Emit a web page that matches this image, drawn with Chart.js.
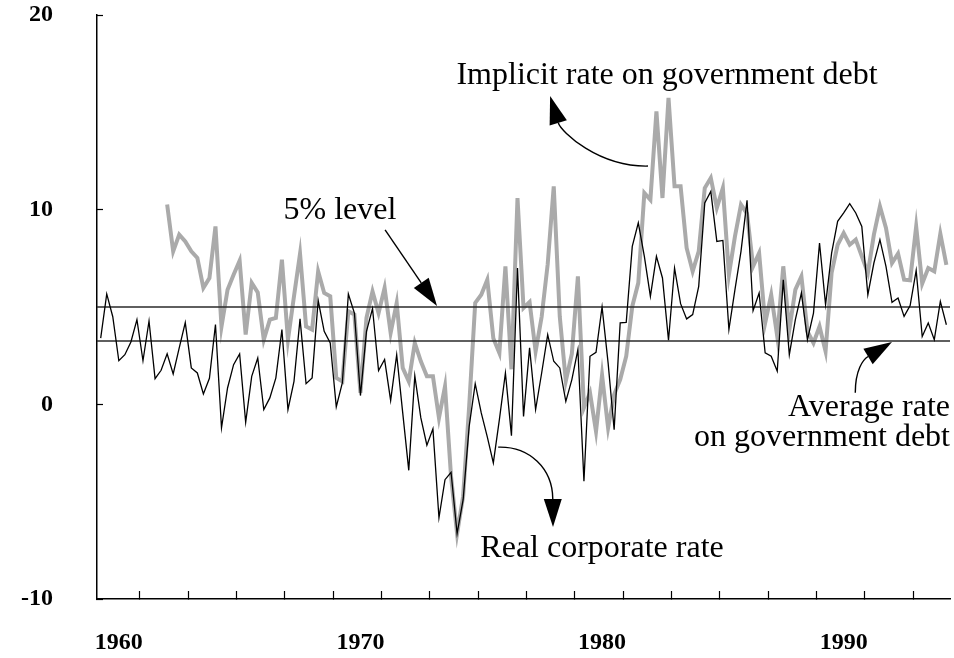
<!DOCTYPE html>
<html>
<head>
<meta charset="utf-8">
<title>Real corporate rate and implicit rate on government debt</title>
<script src="https://cdn.jsdelivr.net/npm/chart.js@4.4.0/dist/chart.umd.min.js"></script>
<style>
  html, body { margin: 0; padding: 0; background: #fff; }
  #wrap { position: relative; width: 954px; height: 658px; }
</style>
</head>
<body>
<div id="wrap"><canvas id="rates"></canvas></div>
<script>
// quarterly series, 1959Q2 .. 1994Q2
const firstQuarter = 1959.25;

const realRate = [
  3.4, 5.67, 4.5, 2.24, 2.55, 3.2, 4.35, 2.24, 4.28, 1.32,
  1.75, 2.6, 1.56, 2.9, 4.2, 1.87, 1.61, 0.53, 1.34, 4.1,
  -1.21, 0.84, 2.04, 2.59, -0.92, 1.44, 2.38, -0.27, 0.33, 1.36,
  3.84, -0.27, 1.18, 4.39, 1.06, 1.36, 5.34, 3.75, 3.15, -0.13,
  1.1, 5.67, 4.69, 0.45, 3.75, 4.92, 1.73, 2.3, 0.2, 2.55,
  -0.44, -3.39, 1.47, -0.7, -2.1, -1.26, -5.83, -3.87, -3.49, -6.64,
  -4.9, -1.13, 1.06, -0.44, -1.67, -3.01, -0.79, 1.61, -1.61, 7.0,
  -0.62, 2.9, -0.27, 1.61, 3.58, 2.21, 1.87, 0.15, 1.27, 2.81,
  -3.95, 2.47, 2.67, 5.0, 2.13, -1.3, 4.18, 4.21, 8.11, 9.32,
  7.6, 5.55, 7.6, 6.49, 3.29, 7.0, 5.17, 4.39, 4.61, 6.06,
  10.34, 10.94, 8.37, 8.42, 3.84, 5.89, 7.86, 10.48, 4.81, 5.72,
  2.64, 2.47, 1.7, 6.4, 2.55, 4.35, 5.72, 3.32, 4.69, 8.29,
  5.12, 7.77, 9.4, 9.83, 10.31, 9.83, 9.14, 5.63, 7.26, 8.46,
  7.09, 5.24, 5.46, 4.52, 5.07, 6.88, 3.49, 4.18, 3.32, 5.29,
  4.09
];

const implicitRate = [
  null, null, null, null, null, null, null, null, null, null,
  null, 10.26, 7.86, 8.72, 8.37, 7.86, 7.52, 5.98, 6.49, 9.14,
  4.0, 5.89, 6.66, 7.38, 3.58, 6.24, 5.75, 3.32, 4.35, 4.44,
  7.43, 3.32, 5.55, 7.74, 4.0, 3.84, 6.83, 5.72, 5.55, 1.36,
  1.18, 4.78, 4.61, 0.59, 4.44, 5.8, 4.69, 5.98, 3.67, 5.21,
  1.87, 1.18, 3.15, 2.21, 1.44, 1.44, -0.7, 0.92, -3.7, -6.64,
  -4.72, -0.1, 5.21, 5.63, 6.4, 3.4, 2.64, 7.09, 1.8, 10.6,
  4.95, 5.26, 2.72, 4.5, 7.2, 11.2, 4.5, 1.2, 2.6, 6.57,
  -0.17, 0.6, -1.39, 1.5, -1.21, 0.5, 1.27, 2.47, 5.03, 6.24,
  10.86, 10.51, 15.05, 10.6, 15.74, 11.2, 11.2, 8.03, 6.83, 7.86,
  11.11, 11.63, 10.09, 11.11, 6.66, 8.63, 10.26, 9.8, 7.09, 7.77,
  4.18, 5.63, 3.49, 7.09, 3.84, 5.89, 6.57, 3.75, 3.15, 4.0,
  2.72, 6.75, 8.2, 8.8, 8.2, 8.46, 7.6, 6.75, 8.72, 10.17,
  9.06, 7.26, 7.74, 6.4, 6.37, 9.14, 6.2, 7.0, 6.83, 8.77,
  7.17
];

const fivePercentLevel = 5;
const averageGovRate = 3.25;

const yearLabels = [1960, 1970, 1980, 1990];
const tickMarkYears = [1960.875, 1962.875, 1964.875, 1966.875, 1968.875, 1970.875,
  1972.875, 1974.875, 1976.875, 1978.875, 1980.875, 1982.875, 1984.875,
  1986.875, 1988.875, 1990.875, 1992.875];
const yTicks = [-10, 0, 10, 20];

const xMin = 1959.097, xMax = 1994.4;

const quarters = realRate.map((_, i) => firstQuarter + i * 0.25);
const toPoints = (vals) => vals.map((v, i) => ({ x: quarters[i], y: v }));

// text labels and arrows, positioned in data units
const notes = [
  { lines: ['Implicit rate on government debt'], x: 1982.69, y: 16.45, align: 'center' },
  { lines: ['5% level'], x: 1969.15, y: 9.5, align: 'center' },
  { lines: ['Average rate', 'on government debt'], x: 1994.4, y: -0.62, align: 'right' },
  { lines: ['Real corporate rate'], x: 1980.0, y: -7.84, align: 'center' }
];
const arrows = [
  { from: [1981.9, 12.24], c1: [1979.85, 12.19], c2: [1978.3, 14.0], to: [1977.85, 15.84] },
  { from: [1971.02, 8.96], to: [1973.17, 5.05] },
  { from: [1990.48, 0.6], c1: [1990.48, 1.76], c2: [1990.8, 2.3], to: [1992.0, 3.2] },
  { from: [1975.7, -2.2], c1: [1977.0, -2.15], c2: [1977.95, -3.3], to: [1977.97, -6.3] }
];

const annotationPlugin = {
  id: 'notes',
  afterDraw(chart) {
    const { ctx, scales: { x, y } } = chart;
    const px = (p) => [x.getPixelForValue(p[0]), y.getPixelForValue(p[1])];
    ctx.save();
    ctx.fillStyle = '#000';
    ctx.strokeStyle = '#000';
    ctx.font = '32px "Liberation Serif", "Times New Roman", serif';
    ctx.textBaseline = 'alphabetic';
    notes.forEach(n => {
      ctx.textAlign = n.align;
      const bx = x.getPixelForValue(n.x);
      const by = y.getPixelForValue(n.y);
      n.lines.forEach((t, k) => ctx.fillText(t, bx, by + k * 30));
    });

    ctx.lineWidth = 1.4;
    arrows.forEach(a => {
      const p0 = px(a.from), tip = px(a.to);
      const ref = a.c2 ? px(a.c2) : p0;
      const ang = Math.atan2(tip[1] - ref[1], tip[0] - ref[0]);
      const L = 28, W = 18;
      const bx = tip[0] - L * Math.cos(ang), by = tip[1] - L * Math.sin(ang);
      ctx.beginPath();
      ctx.moveTo(p0[0], p0[1]);
      if (a.c1) {
        const c1 = px(a.c1), c2 = px(a.c2);
        ctx.bezierCurveTo(c1[0], c1[1], c2[0], c2[1], bx, by);
      } else {
        ctx.lineTo(bx, by);
      }
      ctx.stroke();
      ctx.beginPath();
      ctx.moveTo(tip[0], tip[1]);
      ctx.lineTo(bx + W / 2 * Math.sin(ang), by - W / 2 * Math.cos(ang));
      ctx.lineTo(bx - W / 2 * Math.sin(ang), by + W / 2 * Math.cos(ang));
      ctx.closePath();
      ctx.fill();
    });
    ctx.restore();
  }
};

const tickFont = { family: '"Liberation Serif", "Times New Roman", serif', size: 24, weight: 'bold' };

// keep label overflow from pushing the plot area around
function noPadding(scale) {
  scale.paddingTop = 0;
  scale.paddingBottom = 0;
  scale.paddingLeft = 0;
  scale.paddingRight = 0;
}

document.addEventListener('DOMContentLoaded', function() {
  const el = document.getElementById('rates');
  new Chart(el, {
    type: 'line',
    data: {
      datasets: [
        {
          label: 'Real corporate rate',
          data: toPoints(realRate),
          borderColor: '#000',
          borderWidth: 1.3,
          pointRadius: 0,
          tension: 0
        },
        {
          label: '5% level',
          data: [{ x: xMin, y: fivePercentLevel }, { x: xMax, y: fivePercentLevel }],
          borderColor: '#2a2a2a',
          borderWidth: 1.5,
          pointRadius: 0
        },
        {
          label: 'Average rate on government debt',
          data: [{ x: xMin, y: averageGovRate }, { x: xMax, y: averageGovRate }],
          borderColor: '#2a2a2a',
          borderWidth: 1.5,
          pointRadius: 0
        },
        {
          label: 'Implicit rate on government debt',
          data: toPoints(implicitRate),
          borderColor: '#aaaaaa',
          borderWidth: 4,
          pointRadius: 0,
          tension: 0,
          spanGaps: false
        }
      ]
    },
    options: {
      responsive: true,
      maintainAspectRatio: false,
      devicePixelRatio: 1,
      animation: false,
      layout: { padding: { top: 15, right: 4, left: 0, bottom: 0 } },
      plugins: {
        legend: { display: false },
        tooltip: { enabled: false }
      },
      scales: {
        x: {
          type: 'linear',
          min: xMin,
          max: xMax,
          afterBuildTicks: (scale) => {
            scale.ticks = yearLabels.concat(tickMarkYears)
              .sort((a, b) => a - b)
              .map(v => ({ value: v }));
          },
          afterFit: (scale) => { scale.height = 59; noPadding(scale); },
          border: { display: true, color: '#000', width: 1.5 },
          grid: {
            drawOnChartArea: false,
            drawTicks: true,
            tickLength: -8,
            tickWidth: 1.2,
            tickColor: (ctx) => (ctx.tick && yearLabels.includes(ctx.tick.value)) ? 'rgba(0,0,0,0)' : '#000'
          },
          ticks: {
            autoSkip: false,
            maxRotation: 0,
            padding: 37,
            color: '#000',
            font: tickFont,
            callback: (v) => yearLabels.includes(v) ? String(v) : ''
          }
        },
        y: {
          min: -10,
          max: 20,
          afterBuildTicks: (scale) => {
            scale.ticks = yTicks.map(v => ({ value: v }));
          },
          afterFit: (scale) => { scale.width = 97; noPadding(scale); },
          border: { display: true, color: '#000', width: 1.5 },
          grid: {
            drawOnChartArea: false,
            drawTicks: true,
            tickLength: -6,
            tickWidth: 1.2,
            tickColor: '#000'
          },
          ticks: {
            padding: 50,
            color: '#000',
            font: tickFont
          }
        }
      }
    },
    plugins: [annotationPlugin]
  });
});
</script>
</body>
</html>
